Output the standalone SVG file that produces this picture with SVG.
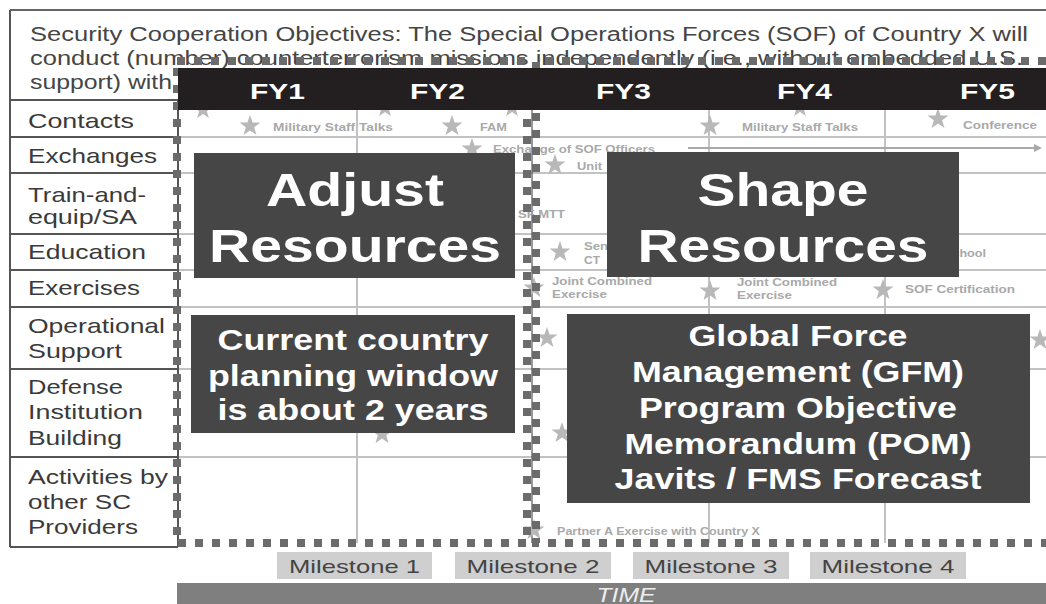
<svg xmlns="http://www.w3.org/2000/svg" xmlns:xlink="http://www.w3.org/1999/xlink" width="1046" height="604" viewBox="0 0 1046 604">
<defs>
<style>
.t{font-family:"Liberation Sans",Arial,Helvetica,sans-serif}
.title{font-size:20px;fill:#454545}
.lab{font-size:21px;fill:#3a3a3a}
.fy{font-size:22px;font-weight:bold;fill:#ffffff}
.big{font-size:46px;font-weight:bold;fill:#ffffff;text-anchor:middle}
.mid{font-size:29px;font-weight:bold;fill:#ffffff;text-anchor:middle}
.faint{font-size:10px;font-weight:bold;fill:#a9a9a9}
.ms{font-size:19px;fill:#444444;text-anchor:middle}
.grid{stroke:#c2c2c2;stroke-width:2;fill:none}
.col{stroke:#555555;stroke-width:2;fill:none}
.dash{stroke:#6b6b6b;stroke-width:8;stroke-dasharray:8 9;fill:none}
.dark{fill:#464646}
.star{fill:#b8b8b8}
</style>
<path id="star" d="M0,-10 L2.35,-3.24 L9.51,-3.09 L3.8,1.24 L5.88,8.09 L0,4 L-5.88,8.09 L-3.8,1.24 L-9.51,-3.09 L-2.35,-3.24 Z"/>
<marker id="arr" markerWidth="8" markerHeight="8" refX="6" refY="4" orient="auto" markerUnits="userSpaceOnUse">
<path d="M0,0 L8,4 L0,8 Z" fill="#a9a9a9"/>
</marker>
</defs>
<rect x="0" y="0" width="1046" height="604" fill="#ffffff"/>

<g id="title">
<line x1="10" y1="10" x2="1046" y2="10" stroke="#666" stroke-width="2"/>
<text class="t title" x="30" y="41" textLength="998" lengthAdjust="spacingAndGlyphs">Security Cooperation Objectives: The Special Operations Forces (SOF) of Country X will</text>
<text class="t title" x="30" y="65" textLength="993" lengthAdjust="spacingAndGlyphs">conduct (number) counterterrorism missions independently (i.e., without embedded U.S.</text>
<text class="t title" x="30" y="89" textLength="142" lengthAdjust="spacingAndGlyphs">support) with</text>
</g>

<g id="grid">
<line class="grid" x1="178" y1="137" x2="1046" y2="137"/>
<line class="grid" x1="178" y1="173" x2="1046" y2="173"/>
<line class="grid" x1="178" y1="234" x2="1046" y2="234"/>
<line class="grid" x1="178" y1="270" x2="1046" y2="270"/>
<line class="grid" x1="178" y1="307" x2="1046" y2="307"/>
<line class="grid" x1="178" y1="369" x2="1046" y2="369"/>
<line class="grid" x1="178" y1="457" x2="1046" y2="457"/>
<line class="grid" x1="357" y1="110" x2="357" y2="543"/>
<line class="grid" x1="709" y1="110" x2="709" y2="543"/>
<line class="grid" x1="885" y1="110" x2="885" y2="543"/>
<line x1="532" y1="110" x2="532" y2="543" stroke="#333" stroke-width="1"/>
</g>

<g id="activities">
<use href="#star" class="star" transform="translate(203,110)"/>
<use href="#star" class="star" transform="translate(385,108)"/>
<use href="#star" class="star" transform="translate(512,108)"/>
<use href="#star" class="star" transform="translate(800,108)"/>
<use href="#star" class="star" transform="translate(250,126) scale(1.1)"/>
<text class="t faint" x="273" y="131" textLength="120" lengthAdjust="spacingAndGlyphs">Military Staff Talks</text>
<use href="#star" class="star" transform="translate(452,126) scale(1.1)"/>
<text class="t faint" x="480" y="131" textLength="27" lengthAdjust="spacingAndGlyphs">FAM</text>
<use href="#star" class="star" transform="translate(710,126) scale(1.1)"/>
<text class="t faint" x="742" y="131" textLength="116" lengthAdjust="spacingAndGlyphs">Military Staff Talks</text>
<use href="#star" class="star" transform="translate(938,119) scale(1.1)"/>
<text class="t faint" x="963" y="129" textLength="74" lengthAdjust="spacingAndGlyphs">Conference</text>
<use href="#star" class="star" transform="translate(472,149) scale(1.1)"/>
<text class="t faint" x="493" y="153" textLength="162" lengthAdjust="spacingAndGlyphs">Exchange of SOF Officers</text>
<use href="#star" class="star" transform="translate(555,165) scale(1.1)"/>
<text class="t faint" x="577" y="170" textLength="25" lengthAdjust="spacingAndGlyphs">Unit</text>
<text class="t faint" x="518" y="218" textLength="47" lengthAdjust="spacingAndGlyphs">SF MTT</text>
<use href="#star" class="star" transform="translate(560,252) scale(1.1)"/>
<text class="t faint" x="584" y="250" textLength="24" lengthAdjust="spacingAndGlyphs">Sen</text>
<text class="t faint" x="584" y="264" textLength="16" lengthAdjust="spacingAndGlyphs">CT</text>
<text class="t faint" x="944" y="257" textLength="42" lengthAdjust="spacingAndGlyphs">School</text>
<use href="#star" class="star" transform="translate(534,288) scale(1.1)"/>
<text class="t faint" x="552" y="285" textLength="100" lengthAdjust="spacingAndGlyphs">Joint Combined</text>
<text class="t faint" x="552" y="298" textLength="55" lengthAdjust="spacingAndGlyphs">Exercise</text>
<use href="#star" class="star" transform="translate(710,291) scale(1.1)"/>
<text class="t faint" x="737" y="286" textLength="100" lengthAdjust="spacingAndGlyphs">Joint Combined</text>
<text class="t faint" x="737" y="299" textLength="55" lengthAdjust="spacingAndGlyphs">Exercise</text>
<use href="#star" class="star" transform="translate(883,290) scale(1.1)"/>
<text class="t faint" x="905" y="293" textLength="110" lengthAdjust="spacingAndGlyphs">SOF Certification</text>
<use href="#star" class="star" transform="translate(547,338) scale(1.1)"/>
<use href="#star" class="star" transform="translate(1040,340) scale(1.1)"/>
<use href="#star" class="star" transform="translate(562,433) scale(1.1)"/>
<use href="#star" class="star" transform="translate(382,434) scale(1.1)"/>
<use href="#star" class="star" transform="translate(534,530) scale(1.1)"/>
<text class="t faint" x="557" y="535" textLength="203" lengthAdjust="spacingAndGlyphs">Partner A Exercise with Country X</text>
</g>

<g id="connectors">
<line x1="688" y1="148" x2="1040" y2="148" stroke="#a9a9a9" stroke-width="2" marker-end="url(#arr)"/>
</g>

<g id="row-labels">
<line class="col" x1="10" y1="10" x2="10" y2="547"/>
<line class="col" x1="10" y1="547" x2="178" y2="547"/>
<line class="col" x1="178" y1="100" x2="178" y2="547"/>
<line class="col" x1="10" y1="100" x2="178" y2="100"/>
<line class="col" x1="10" y1="137" x2="178" y2="137"/>
<line class="col" x1="10" y1="173" x2="178" y2="173"/>
<line class="col" x1="10" y1="234" x2="178" y2="234"/>
<line class="col" x1="10" y1="270" x2="178" y2="270"/>
<line class="col" x1="10" y1="307" x2="178" y2="307"/>
<line class="col" x1="10" y1="369" x2="178" y2="369"/>
<line class="col" x1="10" y1="457" x2="178" y2="457"/>
<text class="t lab" x="28" y="128" textLength="106" lengthAdjust="spacingAndGlyphs">Contacts</text>
<text class="t lab" x="28" y="163" textLength="129" lengthAdjust="spacingAndGlyphs">Exchanges</text>
<text class="t lab" x="28" y="202" textLength="118" lengthAdjust="spacingAndGlyphs">Train-and-</text>
<text class="t lab" x="28" y="224" textLength="109" lengthAdjust="spacingAndGlyphs">equip/SA</text>
<text class="t lab" x="28" y="259" textLength="118" lengthAdjust="spacingAndGlyphs">Education</text>
<text class="t lab" x="28" y="295" textLength="112" lengthAdjust="spacingAndGlyphs">Exercises</text>
<text class="t lab" x="28" y="333" textLength="137" lengthAdjust="spacingAndGlyphs">Operational</text>
<text class="t lab" x="28" y="358" textLength="94" lengthAdjust="spacingAndGlyphs">Support</text>
<text class="t lab" x="28" y="394" textLength="95" lengthAdjust="spacingAndGlyphs">Defense</text>
<text class="t lab" x="28" y="419" textLength="115" lengthAdjust="spacingAndGlyphs">Institution</text>
<text class="t lab" x="28" y="445" textLength="94" lengthAdjust="spacingAndGlyphs">Building</text>
<text class="t lab" x="28" y="484" textLength="140" lengthAdjust="spacingAndGlyphs">Activities by</text>
<text class="t lab" x="28" y="509" textLength="103" lengthAdjust="spacingAndGlyphs">other SC</text>
<text class="t lab" x="28" y="534" textLength="110" lengthAdjust="spacingAndGlyphs">Providers</text>
</g>

<g id="windows">
<rect class="dash" x="177" y="61" width="350" height="482"/>
<rect class="dash" x="536" y="61" width="530" height="482" stroke-dashoffset="8"/>
</g>

<g id="fy-bar">
<rect x="178" y="68" width="868" height="42" fill="#231f20"/>
<text class="t fy" x="250" y="99" textLength="55" lengthAdjust="spacingAndGlyphs">FY1</text>
<text class="t fy" x="410" y="99" textLength="55" lengthAdjust="spacingAndGlyphs">FY2</text>
<text class="t fy" x="596" y="99" textLength="55" lengthAdjust="spacingAndGlyphs">FY3</text>
<text class="t fy" x="777" y="99" textLength="55" lengthAdjust="spacingAndGlyphs">FY4</text>
<text class="t fy" x="960" y="99" textLength="55" lengthAdjust="spacingAndGlyphs">FY5</text>
</g>

<g id="adjust-resources">
<rect class="dark" x="194" y="153" width="321" height="125"/>
<text class="t big" x="355" y="206" textLength="178" lengthAdjust="spacingAndGlyphs">Adjust</text>
<text class="t big" x="355" y="262" textLength="292" lengthAdjust="spacingAndGlyphs">Resources</text>
</g>

<g id="shape-resources">
<rect class="dark" x="607" y="152" width="352" height="125"/>
<text class="t big" x="783" y="206" textLength="171" lengthAdjust="spacingAndGlyphs">Shape</text>
<text class="t big" x="783" y="262" textLength="291" lengthAdjust="spacingAndGlyphs">Resources</text>
</g>

<g id="planning-window">
<rect class="dark" x="191" y="315" width="324" height="118"/>
<text class="t mid" x="353" y="350" textLength="271" lengthAdjust="spacingAndGlyphs">Current country</text>
<text class="t mid" x="353" y="386" textLength="290" lengthAdjust="spacingAndGlyphs">planning window</text>
<text class="t mid" x="353" y="420" textLength="271" lengthAdjust="spacingAndGlyphs">is about 2 years</text>
</g>

<g id="processes">
<rect class="dark" x="567" y="314" width="463" height="189"/>
<text class="t mid" x="798" y="346" textLength="219" lengthAdjust="spacingAndGlyphs">Global Force</text>
<text class="t mid" x="798" y="382" textLength="332" lengthAdjust="spacingAndGlyphs">Management (GFM)</text>
<text class="t mid" x="798" y="418" textLength="318" lengthAdjust="spacingAndGlyphs">Program Objective</text>
<text class="t mid" x="798" y="454" textLength="347" lengthAdjust="spacingAndGlyphs">Memorandum (POM)</text>
<text class="t mid" x="798" y="489" textLength="367" lengthAdjust="spacingAndGlyphs">Javits / FMS Forecast</text>
</g>

<g id="milestones">
<rect x="277" y="552" width="155" height="27" fill="#cfcfcf"/>
<text class="t ms" x="354.5" y="573" textLength="131" lengthAdjust="spacingAndGlyphs">Milestone 1</text>
<rect x="455" y="552" width="156" height="27" fill="#cfcfcf"/>
<text class="t ms" x="533" y="573" textLength="133" lengthAdjust="spacingAndGlyphs">Milestone 2</text>
<rect x="633" y="552" width="156" height="27" fill="#cfcfcf"/>
<text class="t ms" x="711" y="573" textLength="133" lengthAdjust="spacingAndGlyphs">Milestone 3</text>
<rect x="810" y="552" width="156" height="27" fill="#cfcfcf"/>
<text class="t ms" x="888" y="573" textLength="133" lengthAdjust="spacingAndGlyphs">Milestone 4</text>
</g>

<g id="time">
<rect x="177" y="583" width="869" height="21" fill="#7f7f7f"/>
<text class="t" x="626" y="602" font-size="20" font-style="italic" fill="#eeeeee" text-anchor="middle" textLength="59" lengthAdjust="spacingAndGlyphs">TIME</text>
</g>
</svg>
